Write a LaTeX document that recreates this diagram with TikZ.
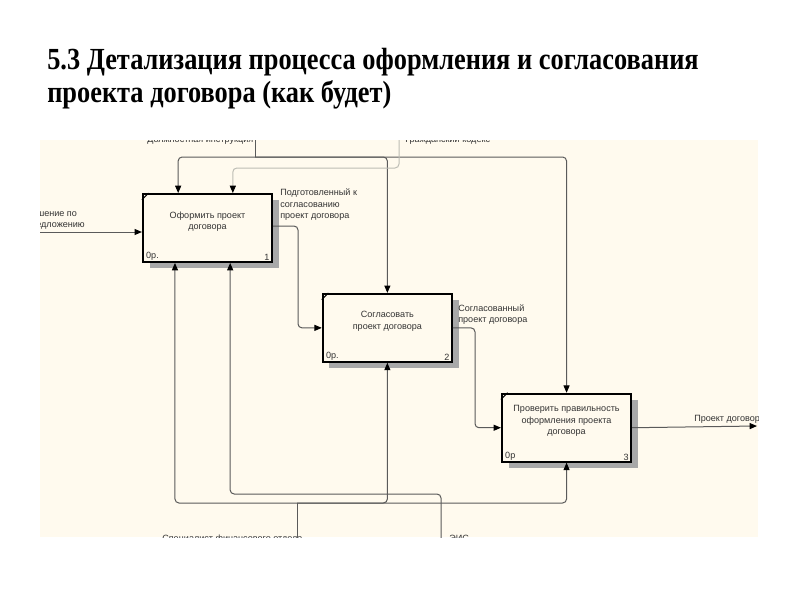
\documentclass[tikz,border=0pt]{standalone}
\usepackage{fontspec}
\setsansfont{Liberation Sans}
\newfontfamily\headfont[FakeStretch=0.86]{Liberation Serif}
\usepackage{tikz}
\usetikzlibrary{arrows.meta,positioning,shadows}
\definecolor{PaperBg}{HTML}{FFFAEE}
\definecolor{LineGrey}{HTML}{5A5A5A}
\definecolor{PaleGrey}{HTML}{BDBDB5}
\definecolor{ShadowGrey}{HTML}{A8A8A8}
\definecolor{InkText}{HTML}{333333}
\tikzset{
  FN/.style={rectangle,draw=black,line width=1.4pt,fill=PaperBg,
             minimum width=97pt,minimum height=51pt,inner sep=0pt,
             drop shadow={shadow xshift=5pt,shadow yshift=-4.5pt,
                          fill=ShadowGrey,opacity=1}},
  ln/.style={draw=LineGrey,line width=0.75pt,rounded corners=3pt},
  arr/.style={ln,-{Triangle[length=5.5pt,width=4.5pt,black]}},
  lbl/.style={font=\sffamily\fontsize{6.8}{8.5}\selectfont,text=InkText,
              align=left,inner sep=0pt},
  ttl/.style={lbl,align=center},
  tick/.style={draw=black,line width=0.8pt}
}

\begin{document}
\begin{tikzpicture}[x=0.75pt,y=-0.75pt]
  \useasboundingbox[fill=white] (0,0) rectangle (800,600);
  \node[anchor=north west,inner sep=0pt,align=left,
        font=\headfont\bfseries\fontsize{23}{24.8}\selectfont] (title) at (47,48)
    {5.3 Детализация процесса оформления и согласования\\проекта договора (как будет)};

  \begin{scope}
    \clip (40,140) rectangle (758,537);
    \fill[PaperBg] (40,140) rectangle (758,537);

    % activity boxes
    \node[FN] (b1) at (207.5,228) {};
    \node[FN,below right=22.5pt and 36.5pt of b1] (b2) {};
    \node[FN,below right=22.5pt and 36pt of b2] (b3) {};

    \node[ttl] (b1t) at ([yshift=5pt]b1.center) {Оформить проект\\договора};
    \node[ttl] (b2t) at ([yshift=5pt]b2.center) {Согласовать\\проект договора};
    \node[ttl] (b3t) at ([yshift=5pt]b3.center) {Проверить правильность\\оформления проекта\\договора};

    \node[lbl,anchor=south west] (b1a) at ([shift={(3pt,1.5pt)}]b1.south west) {0р.};
    \node[lbl,anchor=south east] (b1n) at ([shift={(-2.5pt,1.5pt)}]b1.south east) {1};
    \node[lbl,anchor=south west] (b2a) at ([shift={(3pt,1.5pt)}]b2.south west) {0р.};
    \node[lbl,anchor=south east] (b2n) at ([shift={(-2.5pt,1.5pt)}]b2.south east) {2};
    \node[lbl,anchor=south west] (b3a) at ([shift={(3pt,1.5pt)}]b3.south west) {0р};
    \node[lbl,anchor=south east] (b3n) at ([shift={(-2.5pt,1.5pt)}]b3.south east) {3};

    \draw[tick] ([yshift=-5pt]b1.north west) -- ([xshift=5pt]b1.north west);
    \draw[tick] ([yshift=-5pt]b2.north west) -- ([xshift=5pt]b2.north west);
    \draw[tick] ([yshift=-5pt]b3.north west) -- ([xshift=5pt]b3.north west);

    % arrow labels
    \node[lbl,anchor=base west] (din) at (147,142) {Должностная инструкция};
    \node[lbl,anchor=base west] (gk) at (405,142) {Гражданский кодекс};
    \node[lbl,anchor=base west] (spe) at (162,541) {Специалист финансового отдела};
    \node[lbl,anchor=base west] (eis) at (449,541) {ЭИС};
    \node[lbl,anchor=north east] (inp) at (85,210) {Решение по\\предложению};
    \node[lbl,anchor=north west] (o1l) at (280,189) {Подготовленный к\\согласованию\\проект договора};
    \node[lbl,anchor=north west] (o2l) at (458,304) {Согласованный\\проект договора};
    \node[lbl,anchor=west] (o3l) at (694,419) {Проект договора};

    \coordinate (dinT) at (255,130);
    \coordinate (dinF) at (255,157);
    \coordinate (gkT) at (399,130);
    \coordinate (gkF) at (399,168);
    \coordinate (speT) at (297,545);
    \coordinate (speF) at (297,503);
    \coordinate (eisT) at (441,545);
    \coordinate (eisF) at (441,494);
    \coordinate (inL) at (30,232);
    \coordinate (o1) at (298,280);
    \coordinate (o2) at (475,380);
    \coordinate (outR) at (757,426);

    % controls
    \draw[ln] (dinT) -- (dinF);
    \draw[arr] (dinF) -| ([xshift=-22pt]b1.north);
    \draw[arr] (dinF) -| (b3.north);
    \draw[arr] (dinF) -| (b2.north);
    \draw[arr,draw=PaleGrey] (gkT) -- (gkF) -| ([xshift=19pt]b1.north);

    % input and outputs
    \draw[arr] (inL) -- (inL -| b1.west);
    \draw[arr] ([yshift=1.5pt]b1.east) -| (o1) |- (b2.west);
    \draw[arr] (b2.east) -| (o2) |- (b3.west);
    \draw[arr] (b3.east) -- (outR);

    % mechanisms
    \draw[ln] (speT) -- (speF);
    \draw[arr] (speF) -| ([xshift=-24.4pt]b1.south);
    \draw[arr] (speF) -| (b3.south);
    \draw[arr] (speF) -| (b2.south);
    \draw[arr] (eisT) -- (eisF) -| ([xshift=17pt]b1.south);
  \end{scope}
\end{tikzpicture}
\end{document}
